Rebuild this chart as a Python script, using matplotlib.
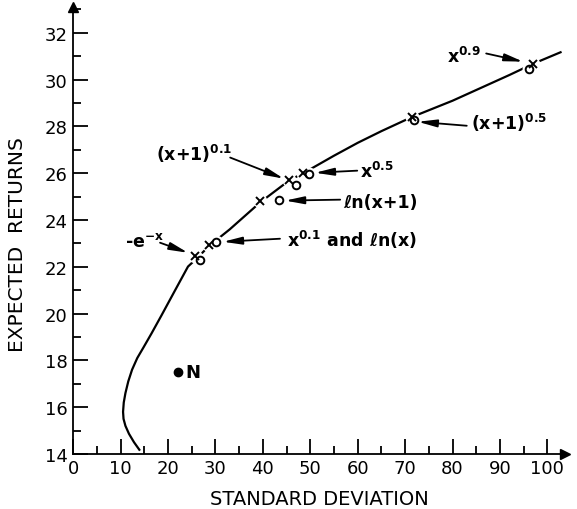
import matplotlib.pyplot as plt
from matplotlib.ticker import MultipleLocator

plt.rcParams["font.family"] = ["DejaVu Sans"]
plt.rcParams["mathtext.default"] = "regular"

# efficient frontier (std dev, expected return)
frontier_sd = [14.07, 12.81, 11.75, 11.0, 10.6, 10.5, 10.65, 11.0, 11.6, 12.4, 13.5,
               14.8, 16.5, 18.6, 21.3, 24.2, 26.0, 28.7, 33.0, 39.4, 45.6, 48.5,
               55.0, 60.0, 65.0, 71.4, 80.0, 86.0, 92.0, 97.0, 103.0]
frontier_ret = [14.14, 14.50, 14.86, 15.2, 15.5, 15.8, 16.2, 16.6, 17.1, 17.6, 18.1,
                18.55, 19.15, 19.92, 20.93, 22.01, 22.35, 22.9, 23.6, 24.75, 25.7, 26.0,
                26.75, 27.3, 27.8, 28.4, 29.1, 29.65, 30.2, 30.68, 31.19]

# utility-function optima, two marker kinds
cross_sd = [25.7, 28.7, 39.4, 45.6, 48.5, 71.4, 97.0]
cross_ret = [22.47, 22.94, 24.80, 25.72, 26.01, 28.41, 30.69]
circle_sd = [26.7, 30.1, 43.4, 46.9, 49.7, 71.9, 96.1]
circle_ret = [22.27, 23.08, 24.87, 25.51, 25.95, 28.26, 30.47]

# naive portfolio
n_sd, n_ret = 22.0, 17.52

fig = plt.figure(figsize=(5.77, 5.10), dpi=100)
ax = fig.add_axes([0.127, 0.108, 0.852, 0.876])

ax.plot(frontier_sd, frontier_ret, color="black", lw=1.6, solid_capstyle="butt",
        solid_joinstyle="round")
# white gaps in the curve round the markers, then the markers themselves
ax.plot(cross_sd + circle_sd, cross_ret + circle_ret, "o", color="white", ms=9)
ax.plot(cross_sd, cross_ret, "x", color="black", ms=6, mew=1.4)
ax.plot(circle_sd, circle_ret, "o", mfc="none", mec="black", ms=5.5, mew=1.4)
ax.plot([n_sd], [n_ret], "o", color="black", ms=6)
ax.text(n_sd + 1.6, n_ret, "N", fontsize=13, fontweight="bold", va="center")

# labels with arrows: text, text pos, arrow tail, arrow head
notes = [
    ("x$^{0.9}$", (78.8, 30.77), (87.1, 31.12), (94.9, 30.77)),
    ("(x+1)$^{0.5}$", (83.9, 27.9), (83.0, 28.03), (72.7, 28.2)),
    ("(x+1)$^{0.1}$", (17.4, 26.58), (33.1, 26.67), (44.4, 25.77)),
    ("x$^{0.5}$", (60.5, 25.85), (59.9, 26.11), (51.0, 26.02)),
    ("ℓn(x+1)", (56.9, 24.57), (56.3, 24.87), (44.7, 24.83)),
    ("x$^{0.1}$ and ℓn(x)", (45.1, 22.91), (43.6, 23.2), (31.6, 23.07)),
    ("-e$^{-x}$", (10.9, 22.91), (18.3, 23.03), (24.2, 22.6)),
]
for txt, pos, tail, head in notes:
    ax.text(pos[0], pos[1], txt, fontsize=12.5, fontweight="bold", va="baseline")
    ax.annotate("", xy=head, xytext=tail,
                arrowprops=dict(arrowstyle="-|>,head_width=0.16,head_length=0.8",
                                color="black", lw=1.3, shrinkA=0, shrinkB=0,
                                mutation_scale=14))

ax.set_xlim(0, 103.7)
ax.set_ylim(14, 33.1)
ax.xaxis.set_minor_locator(MultipleLocator(5))
ax.yaxis.set_minor_locator(MultipleLocator(1))
ax.set_xticks(range(0, 101, 10))
ax.set_yticks(range(14, 33, 2))
ax.tick_params(which="both", direction="in", width=1.3, labelsize=13)
ax.tick_params(which="major", length=11, pad=4)
ax.tick_params(which="minor", length=6)

for s in ["top", "right"]:
    ax.spines[s].set_visible(False)
for s in ["left", "bottom"]:
    ax.spines[s].set_linewidth(1.3)
ax.plot(1, 0, ">", color="black", ms=7, transform=ax.transAxes, clip_on=False)
ax.plot(0, 1, "^", color="black", ms=7, transform=ax.transAxes, clip_on=False)

ax.set_xlabel("STANDARD DEVIATION", fontsize=14, labelpad=8)
ax.set_ylabel("EXPECTED  RETURNS", fontsize=14.5)
ax.yaxis.set_label_coords(-0.095, 0.47)

fig.savefig("out.png", dpi=100, facecolor="white")
